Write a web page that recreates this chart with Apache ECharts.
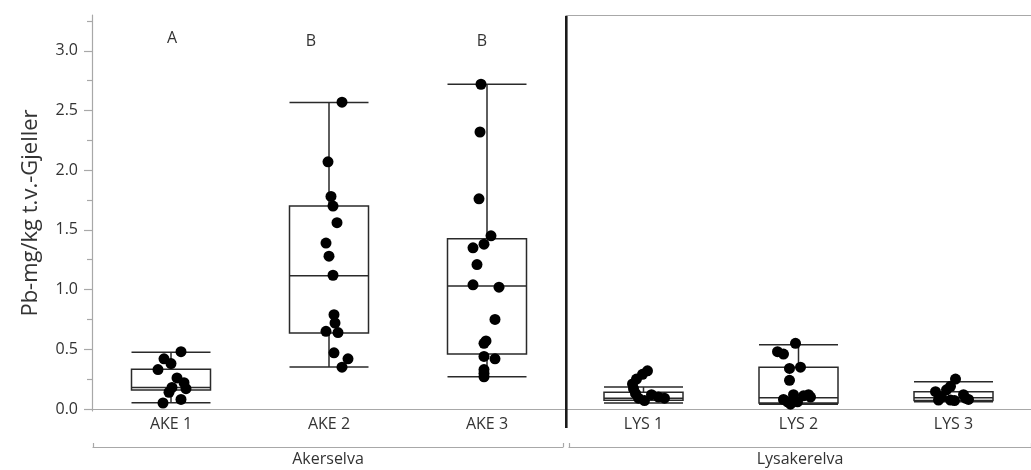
<!DOCTYPE html>
<html>
<head>
<meta charset="utf-8">
<script src="https://cdn.jsdelivr.net/npm/echarts@6/dist/echarts.min.js"></script>
<style>
  html, body { margin: 0; padding: 0; background: #ffffff; }
  #chart { width: 1031px; height: 470px; }
</style>
</head>
<body>
<div id="chart"></div>
<script>
// Pb in gills (mg/kg dry weight) per station, two rivers
const groupNames = ['Akerselva', 'Lysakerelva'];
const akerStations = ['AKE 1', 'AKE 2', 'AKE 3'];
const lysStations = ['LYS 1', 'LYS 2', 'LYS 3'];
const yTickValues = [0, 0.5, 1.0, 1.5, 2.0, 2.5, 3.0];
const yMinorValues = [0.25, 0.75, 1.25, 1.75, 2.25, 2.75, 3.25];
const groupLetters = ['A', 'B', 'B'];

// box statistics: [lower whisker, Q1, median, Q3, upper whisker]
const ake1Box = [0.053, 0.159, 0.179, 0.333, 0.476];
const ake2Box = [0.352, 0.636, 1.115, 1.70, 2.567];
const ake3Box = [0.27, 0.46, 1.03, 1.425, 2.72];
const lys1Box = [0.05, 0.072, 0.09, 0.14, 0.185];
const lys2Box = [0.04, 0.05, 0.095, 0.35, 0.537];
const lys3Box = [0.06, 0.07, 0.095, 0.145, 0.229];

// individual fish
const ake1Values = [0.48, 0.42, 0.38, 0.33, 0.26, 0.22, 0.18, 0.17, 0.14, 0.08, 0.05];
const ake2Values = [2.57, 2.07, 1.78, 1.70, 1.56, 1.39, 1.28, 1.12, 0.79, 0.72, 0.65, 0.64, 0.47, 0.42, 0.35];
const ake3Values = [2.72, 2.32, 1.76, 1.45, 1.38, 1.35, 1.21, 1.04, 1.02, 0.75, 0.57, 0.55, 0.44, 0.42, 0.33, 0.30, 0.27];
const lys1Values = [0.32, 0.29, 0.25, 0.21, 0.17, 0.13, 0.12, 0.10, 0.09, 0.09, 0.07];
const lys2Values = [0.55, 0.48, 0.46, 0.35, 0.34, 0.24, 0.12, 0.12, 0.11, 0.10, 0.08, 0.06, 0.06, 0.04];
const lys3Values = [0.25, 0.19, 0.16, 0.145, 0.12, 0.10, 0.09, 0.075, 0.075, 0.07, 0.08];

// horizontal jitter of the dots, in pixels
const ake1Jitter = [10, -7, 0, -13, 6, 13, 1, 15, -2, 10, -8];
const ake2Jitter = [13, -1, 2, 4, 8, -3, 0, 4, 5, 6, -3, 9, 5, 19, 13];
const ake3Jitter = [-6, -7, -8, 4, -3, -14, -10, -14, 12, 8, -1, -3, -3, 8, -3, -3, -3];
const lys1Jitter = [4, -1, -7, -11, -10, -8, 8, 15, -5, 21, 1];
const lys2Jitter = [-3, -21, -15, 2, -9, -9, -5, 10, 5, 12, -15, -1, -11, -8];
const lys3Jitter = [2, -3, -7, -18, 10, -12, 12, -3, -15, 1, 15];

function dots(lists, jitters) {
  const out = [];
  lists.forEach((vals, ci) => {
    vals.forEach((v, i) => {
      out.push({ value: [ci, v], symbolOffset: [jitters[ci][i], 0] });
    });
  });
  return out;
}

const FONT = '"Open Sans", "Noto Sans", sans-serif';
const AXIS_GRAY = '#a8a8a8';
const TEXT = '#333333';
const Y_MIN = -0.017, Y_MAX = 3.3;

const chart = echarts.init(document.getElementById('chart'), null, { renderer: 'canvas' });

const frameLine = { show: true, lineStyle: { color: AXIS_GRAY, width: 1.2 } };
const catLabel = { color: TEXT, fontSize: 16, margin: 5, fontFamily: FONT };
const groupTick = { show: true, inside: true, length: 4, lineStyle: { color: AXIS_GRAY, width: 1.2 } };

const option = {
  animation: false,
  textStyle: { fontFamily: FONT },
  grid: [
    { left: 92, width: 474, top: 15, bottom: 59 },
    { left: 566, width: 474, top: 15, bottom: 59 },
    { left: 93, width: 470, top: 446, height: 1 },
    { left: 569, width: 472, top: 446, height: 1 }
  ],
  xAxis: [
    { gridIndex: 0, type: 'category', data: akerStations, position: 'bottom',
      axisLine: frameLine, axisTick: { show: false }, axisLabel: catLabel },
    { gridIndex: 0, type: 'category', data: akerStations, position: 'top',
      axisLine: frameLine, axisTick: { show: false }, axisLabel: { show: false } },
    { gridIndex: 1, type: 'category', data: lysStations, position: 'bottom',
      axisLine: frameLine, axisTick: { show: false }, axisLabel: catLabel },
    { gridIndex: 1, type: 'category', data: lysStations, position: 'top',
      axisLine: frameLine, axisTick: { show: false }, axisLabel: { show: false } },
    { gridIndex: 2, type: 'category', data: [groupNames[0]], position: 'bottom',
      axisLine: frameLine, axisTick: groupTick,
      axisLabel: { color: TEXT, fontSize: 16, margin: 4, fontFamily: FONT } },
    { gridIndex: 3, type: 'category', data: [groupNames[1]], position: 'bottom',
      axisLine: frameLine, axisTick: groupTick,
      axisLabel: { color: TEXT, fontSize: 16, margin: 4, fontFamily: FONT } }
  ],
  yAxis: [
    { gridIndex: 0, type: 'value', min: Y_MIN, max: Y_MAX,
      name: 'Pb-mg/kg t.v.-Gjeller', nameLocation: 'middle', nameGap: 50,
      nameTextStyle: { color: TEXT, fontSize: 22, fontFamily: FONT },
      splitLine: { show: false },
      axisLine: { show: true, lineStyle: { color: AXIS_GRAY, width: 1.2 } },
      axisTick: { show: true, length: 8, customValues: yTickValues, lineStyle: { color: AXIS_GRAY, width: 1.2 } },
      axisLabel: { customValues: yTickValues, color: TEXT, fontSize: 16, margin: 14, fontFamily: FONT,
        formatter: v => Number(v).toFixed(1) } },
    { gridIndex: 0, type: 'value', min: Y_MIN, max: Y_MAX, position: 'left',
      splitLine: { show: false }, axisLine: { show: false },
      axisTick: { show: true, length: 5, customValues: yMinorValues, lineStyle: { color: AXIS_GRAY, width: 1.2 } },
      axisLabel: { show: false } },
    { gridIndex: 1, type: 'value', min: Y_MIN, max: Y_MAX, show: false },
    { gridIndex: 2, type: 'value', show: false },
    { gridIndex: 3, type: 'value', show: false }
  ],
  series: [
    { type: 'boxplot', xAxisIndex: 0, yAxisIndex: 0, boxWidth: [79, 79],
      itemStyle: { color: 'rgba(0,0,0,0)', borderColor: '#2a2a2a', borderWidth: 1.5 },
      emphasis: { disabled: true }, silent: true,
      data: [ake1Box, ake2Box, ake3Box] },
    { type: 'boxplot', xAxisIndex: 2, yAxisIndex: 2, boxWidth: [79, 79],
      itemStyle: { color: 'rgba(0,0,0,0)', borderColor: '#2a2a2a', borderWidth: 1.5 },
      emphasis: { disabled: true }, silent: true,
      data: [lys1Box, lys2Box, lys3Box] },
    { type: 'scatter', xAxisIndex: 0, yAxisIndex: 0, symbolSize: 11, z: 5, silent: true,
      itemStyle: { color: '#000000', opacity: 1 },
      data: dots([ake1Values, ake2Values, ake3Values], [ake1Jitter, ake2Jitter, ake3Jitter]) },
    { type: 'scatter', xAxisIndex: 2, yAxisIndex: 2, symbolSize: 11, z: 5, silent: true,
      itemStyle: { color: '#000000', opacity: 1 },
      data: dots([lys1Values, lys2Values, lys3Values], [lys1Jitter, lys2Jitter, lys3Jitter]) }
  ],
  graphic: [
    // divider between the two rivers
    { type: 'rect', shape: { x: 565, y: 16, width: 2.6, height: 412 },
      style: { fill: '#1a1a1a' }, z: 10 },
    { type: 'text', x: 172, y: 38, style: { text: groupLetters[0], fill: TEXT, font: '500 16px ' + FONT, align: 'center', verticalAlign: 'middle' } },
    { type: 'text', x: 311, y: 41, style: { text: groupLetters[1], fill: TEXT, font: '500 16px ' + FONT, align: 'center', verticalAlign: 'middle' } },
    { type: 'text', x: 482, y: 41, style: { text: groupLetters[2], fill: TEXT, font: '500 16px ' + FONT, align: 'center', verticalAlign: 'middle' } }
  ]
};

chart.setOption(option);
</script>
</body>
</html>
